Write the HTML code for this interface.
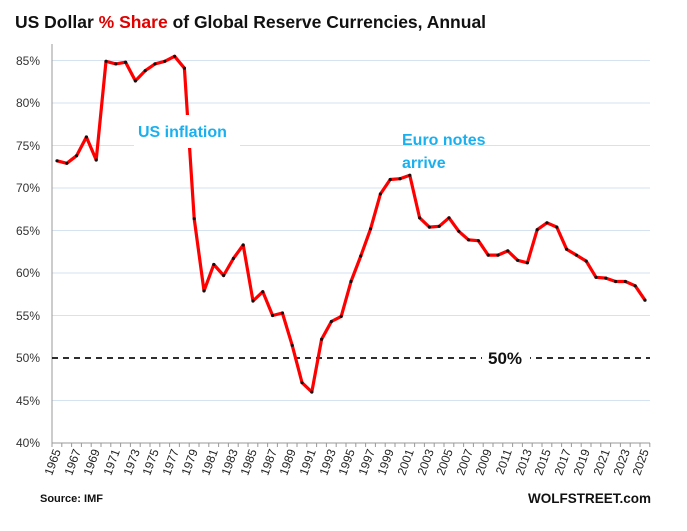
<!DOCTYPE html>
<html><head><meta charset="utf-8"><style>
html,body{margin:0;padding:0;background:#fff;}
svg{display:block;font-family:"Liberation Sans",Arial,sans-serif;}
</style></head><body>
<svg id="s" width="687" height="531" viewBox="0 0 687 531" xmlns="http://www.w3.org/2000/svg">
<text x="15" y="28" font-size="17.5" font-weight="bold" fill="#111">US Dollar <tspan fill="#e00000">% Share</tspan> of Global Reserve Currencies, Annual</text>
<g stroke="#d5e2f0" stroke-width="1">
<line x1="52" x2="650" y1="60.5" y2="60.5"/><line x1="52" x2="650" y1="103" y2="103"/>
<line x1="52" x2="650" y1="145.5" y2="145.5"/><line x1="52" x2="650" y1="188" y2="188"/>
<line x1="52" x2="650" y1="230.5" y2="230.5"/><line x1="52" x2="650" y1="273" y2="273"/>
<line x1="52" x2="650" y1="315.5" y2="315.5"/><line x1="52" x2="650" y1="400.5" y2="400.5"/>
</g>
<g font-size="12" fill="#333" text-anchor="end">
<text x="40" y="65">85%</text><text x="40" y="107">80%</text><text x="40" y="150">75%</text>
<text x="40" y="192">70%</text><text x="40" y="235">65%</text><text x="40" y="277">60%</text>
<text x="40" y="320">55%</text><text x="40" y="362">50%</text><text x="40" y="405">45%</text>
<text x="40" y="447">40%</text>
</g>
<line x1="52" y1="44" x2="52" y2="443" stroke="#999"/>
<line x1="52" y1="443" x2="650" y2="443" stroke="#999"/>
<g id="ticks" stroke="#999"></g>
<line x1="52" y1="358" x2="650" y2="358" stroke="#111" stroke-width="1.8" stroke-dasharray="6,5"/>
<rect x="482" y="346" width="48" height="22" fill="#fff"/>
<text x="488" y="364" font-size="17" font-weight="bold" fill="#111">50%</text>
<polyline id="ln" fill="none" stroke="#ff0000" stroke-width="3.2" stroke-linejoin="round"/>
<g id="dots" fill="#111"></g>
<rect x="134" y="115" width="106" height="33" fill="#fff"/>
<text x="138" y="137" font-size="16" font-weight="bold" fill="#1ab0ef">US inflation</text>
<text x="402" y="145" font-size="16" font-weight="bold" fill="#1ab0ef">Euro notes</text>
<text x="402" y="168" font-size="16" font-weight="bold" fill="#1ab0ef">arrive</text>
<g font-size="12" fill="#222" text-anchor="end">
<text transform="translate(61,451) rotate(-70)">1965</text>
<text transform="translate(81,451) rotate(-70)">1967</text>
<text transform="translate(100,451) rotate(-70)">1969</text>
<text transform="translate(120,451) rotate(-70)">1971</text>
<text transform="translate(140,451) rotate(-70)">1973</text>
<text transform="translate(159,451) rotate(-70)">1975</text>
<text transform="translate(179,451) rotate(-70)">1977</text>
<text transform="translate(198,451) rotate(-70)">1979</text>
<text transform="translate(218,451) rotate(-70)">1981</text>
<text transform="translate(238,451) rotate(-70)">1983</text>
<text transform="translate(257,451) rotate(-70)">1985</text>
<text transform="translate(277,451) rotate(-70)">1987</text>
<text transform="translate(296,451) rotate(-70)">1989</text>
<text transform="translate(316,451) rotate(-70)">1991</text>
<text transform="translate(336,451) rotate(-70)">1993</text>
<text transform="translate(355,451) rotate(-70)">1995</text>
<text transform="translate(375,451) rotate(-70)">1997</text>
<text transform="translate(394,451) rotate(-70)">1999</text>
<text transform="translate(414,451) rotate(-70)">2001</text>
<text transform="translate(434,451) rotate(-70)">2003</text>
<text transform="translate(453,451) rotate(-70)">2005</text>
<text transform="translate(473,451) rotate(-70)">2007</text>
<text transform="translate(492,451) rotate(-70)">2009</text>
<text transform="translate(512,451) rotate(-70)">2011</text>
<text transform="translate(532,451) rotate(-70)">2013</text>
<text transform="translate(551,451) rotate(-70)">2015</text>
<text transform="translate(571,451) rotate(-70)">2017</text>
<text transform="translate(590,451) rotate(-70)">2019</text>
<text transform="translate(610,451) rotate(-70)">2021</text>
<text transform="translate(630,451) rotate(-70)">2023</text>
<text transform="translate(649,451) rotate(-70)">2025</text>
</g>
<text x="40" y="502" font-size="11" font-weight="bold" fill="#111">Source: IMF</text>
<text x="528" y="503" font-size="13.5" font-weight="bold" fill="#111">WOLFSTREET.com</text>
</svg>
<script>
var d=[73.2,72.9,73.8,76.0,73.3,84.9,84.6,84.8,82.6,83.8,84.6,84.9,85.5,84.1,66.4,57.9,61.0,59.7,61.7,63.3,56.7,57.8,55.0,55.3,51.5,47.1,46.0,52.2,54.3,54.9,59.0,62.0,65.2,69.3,71.0,71.1,71.5,66.5,65.4,65.5,66.5,64.9,63.9,63.8,62.1,62.1,62.6,61.5,61.2,65.1,65.9,65.4,62.8,62.1,61.4,59.5,59.4,59.0,59.0,58.5,56.8];
var pts=[],dots='',t='';
for(var i=0;i<d.length;i++){var x=57+9.8*i,y=783-8.5*d[i];pts.push(x.toFixed(1)+','+y.toFixed(1));dots+='<circle cx="'+x.toFixed(1)+'" cy="'+y.toFixed(1)+'" r="1.6"/>';}
for(var i=0;i<=61;i++){var x=52+9.8*i;t+='<line x1="'+x+'" x2="'+x+'" y1="443" y2="447"/>';}
document.getElementById('ln').setAttribute('points',pts.join(' '));
document.getElementById('dots').innerHTML=dots;
document.getElementById('ticks').innerHTML=t;
</script>
</body></html>
